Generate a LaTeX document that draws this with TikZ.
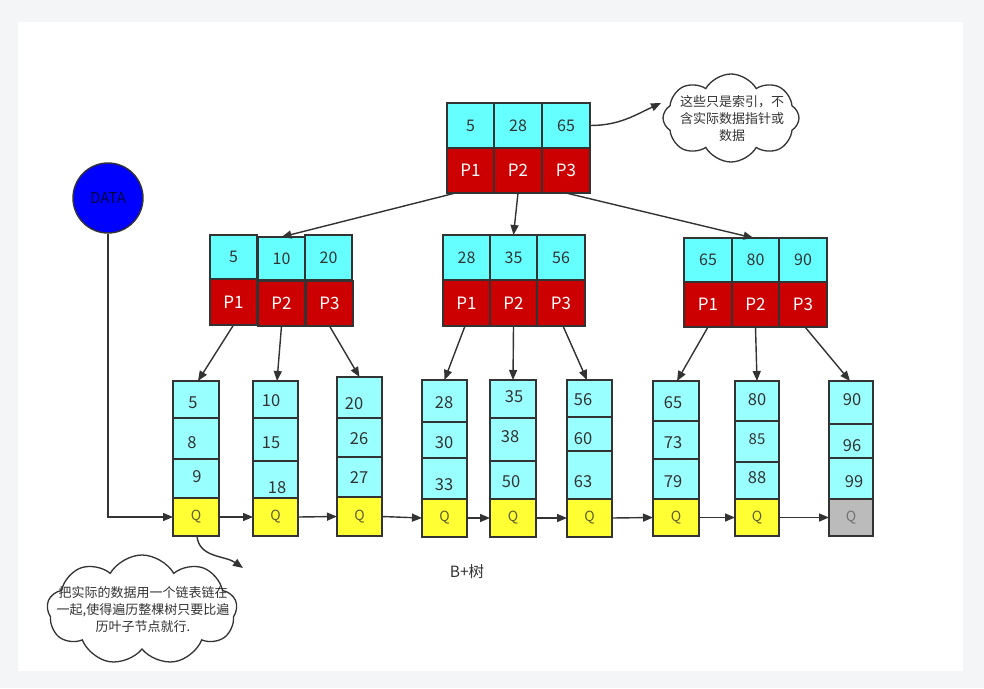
\documentclass[tikz,border=0pt]{standalone}
\usepackage{fontspec}
\setmainfont{Noto Sans CJK SC}
\usetikzlibrary{arrows.meta,shapes.symbols}
\definecolor{bgout}{HTML}{F4F5F7}
\definecolor{keyc}{HTML}{66FFFF}
\definecolor{leafc}{HTML}{99FFFF}
\definecolor{ptrc}{HTML}{CC0000}
\definecolor{qc}{HTML}{FFFF33}
\definecolor{endc}{HTML}{BBBBBB}
\definecolor{edgec}{HTML}{333333}
\definecolor{qtxt}{HTML}{5E5E30}
\newcommand\cellnode[7]{%
  \pgfmathsetmacro\cellW{#5-#3}\pgfmathsetmacro\cellH{#6-#4}%
  \node[#1,minimum width=\cellW pt,minimum height=\cellH pt] (#2) at ({(#3+#5)/2},{(#4+#6)/2}) {#7};%
}
\newcommand\leafbox[9]{%
  \cellnode{leafcell}{#1a}{#2}{#4}{#3}{#5}{}%
  \cellnode{leafcell}{#1b}{#2}{#5}{#3}{#6}{}%
  \cellnode{leafcell}{#1c}{#2}{#6}{#3}{#7}{}%
  \cellnode{#9}{#1q}{#2}{#7}{#3}{#8}{Q}%
}
\begin{document}
\begin{tikzpicture}[x=1pt,y=-1pt,
  box/.style={draw=edgec,line width=1.6pt,inner sep=0pt,outer sep=0pt},
  keycell/.style={box,fill=keyc,font=\fontsize{16}{18}\selectfont,text=edgec},
  ptrcell/.style={box,fill=ptrc,font=\fontsize{17}{19}\selectfont,text=white},
  leafcell/.style={box,fill=leafc},
  qcell/.style={box,fill=qc,font=\fontsize{14}{16}\selectfont,text=qtxt},
  endcell/.style={box,fill=endc,font=\fontsize{14}{16}\selectfont,text=black!55},
  num/.style={font=\fontsize{16.5}{18}\selectfont,text=edgec,inner sep=0pt},
  arr/.style={draw=edgec,line width=1.4pt,-{Triangle[length=10pt,width=8pt]}},
  cloudbox/.style={cloud,cloud ignores aspect,cloud puff arc=120,draw=edgec,line width=1.3pt,fill=white,inner sep=0pt},
  cloudtext/.style={text=edgec,align=center,inner sep=0pt,font=\fontsize{13}{17}\selectfont}
]
\useasboundingbox (0,0) rectangle (984,688);
\fill[bgout] (0,0) rectangle (984,688);
\fill[white] (18,22) rectangle (963,671);

% root
\cellnode{keycell}{rk1}{447}{103}{494}{148}{5}
\cellnode{keycell}{rk2}{494}{103}{542}{148}{28}
\cellnode{keycell}{rk3}{542}{103}{590}{148}{65}
\cellnode{ptrcell}{rp1}{447}{148}{494}{193}{P1}
\cellnode{ptrcell}{rp2}{494}{148}{542}{193}{P2}
\cellnode{ptrcell}{rp3}{542}{148}{590}{193}{P3}

% left internal
\cellnode{keycell}{lk1}{210}{235}{257}{279}{5}
\cellnode{keycell}{lk2}{258}{237}{305}{280}{10}
\cellnode{keycell}{lk3}{305}{235}{352}{280}{20}
\cellnode{ptrcell}{lp1}{210}{279}{257}{325}{P1}
\cellnode{ptrcell}{lp2}{258}{281}{305}{326}{P2}
\cellnode{ptrcell}{lp3}{306}{281}{353}{326}{P3}

% middle internal
\cellnode{keycell}{mk1}{443}{235}{490}{280}{28}
\cellnode{keycell}{mk2}{490}{235}{537}{280}{35}
\cellnode{keycell}{mk3}{537}{235}{585}{280}{56}
\cellnode{ptrcell}{mp1}{443}{280}{490}{326}{P1}
\cellnode{ptrcell}{mp2}{490}{280}{537}{326}{P2}
\cellnode{ptrcell}{mp3}{537}{280}{585}{326}{P3}

% right internal
\cellnode{keycell}{qk1}{684}{238}{732}{282}{65}
\cellnode{keycell}{qk2}{732}{238}{779}{282}{80}
\cellnode{keycell}{qk3}{779}{238}{827}{282}{90}
\cellnode{ptrcell}{qp1}{684}{282}{732}{327}{P1}
\cellnode{ptrcell}{qp2}{732}{282}{779}{327}{P2}
\cellnode{ptrcell}{qp3}{779}{282}{827}{327}{P3}

% leaves
\leafbox{La}{173}{219}{381}{418}{459}{498}{536}{qcell}
\leafbox{Lb}{253}{298}{381}{418}{461}{498}{536}{qcell}
\leafbox{Lc}{337}{382}{377}{418}{457}{497}{536}{qcell}
\leafbox{Ld}{422}{467}{380}{422}{458}{499}{537}{qcell}
\leafbox{Le}{490}{536}{380}{418}{461}{499}{537}{qcell}
\leafbox{Lf}{567}{612}{380}{417}{451}{499}{537}{qcell}
\leafbox{Lg}{653}{699}{381}{421}{459}{499}{536}{qcell}
\leafbox{Lh}{735}{779}{381}{421}{462}{499}{536}{qcell}
\leafbox{Li}{829}{873}{381}{424}{458}{499}{536}{endcell}

% leaf texts
\node[num] (ta1) at (193,403) {5};
\node[num] (ta2) at (192,443) {8};
\node[num] (ta3) at (197,477) {9};
\node[num] (tb1) at (271,401) {10};
\node[num] (tb2) at (271,443) {15};
\node[num] (tb3) at (277,488) {18};
\node[num] (tc1) at (354,404) {20};
\node[num] (tc2) at (359,439) {26};
\node[num] (tc3) at (359,478) {27};
\node[num] (td1) at (444,403) {28};
\node[num] (td2) at (444,443) {30};
\node[num] (td3) at (444,485) {33};
\node[num] (te1) at (514,397) {35};
\node[num] (te2) at (510,437) {38};
\node[num] (te3) at (511,482) {50};
\node[num] (tf1) at (583,400) {56};
\node[num] (tf2) at (583,439) {60};
\node[num] (tf3) at (583,482) {63};
\node[num] (tg1) at (673,403) {65};
\node[num] (tg2) at (673,443) {73};
\node[num] (tg3) at (673,482) {79};
\node[num] (th1) at (757,400) {80};
\node[num,font=\fontsize{15}{17}\selectfont] (th2) at (757,439) {85};
\node[num] (th3) at (757,478) {88};
\node[num] (ti1) at (852,400) {90};
\node[num] (ti2) at (852,446) {96};
\node[num] (ti3) at (854,482) {99};

% tree arrows
\draw[arr] ([xshift=-15pt]rp1.south) -- (lk2.north);
\draw[arr] (rp2.south) -- (mk2.north);
\draw[arr] (rp3.south) -- ([xshift=-2pt]qk2.north);
\draw[arr] (lp1.south) -- ([xshift=2pt]Laa.north);
\draw[arr] (lp2.south) -- ([xshift=1.5pt]Lba.north);
\draw[arr] (lp3.south) -- (Lca.north);
\draw[arr] ([xshift=-1.5pt]mp1.south) -- (Lda.north);
\draw[arr] (mp2.south) -- (Lea.north);
\draw[arr] ([xshift=2pt]mp3.south) -- ([xshift=-2.5pt]Lfa.north);
\draw[arr] (qp1.south) -- ([xshift=1pt]Lga.north);
\draw[arr] (qp2.south) -- (Lha.north);
\draw[arr] ([xshift=2pt]qp3.south) -- ([xshift=-1pt]Lia.north);

% leaf chain
\draw[arr] (Laq.east) -- (Lbq.west);
\draw[arr] (Lbq.east) -- (Lcq.west);
\draw[arr] (Lcq.east) -- (Ldq.west);
\draw[arr] (Ldq.east) -- (Leq.west);
\draw[arr] (Leq.east) -- (Lfq.west);
\draw[arr] (Lfq.east) -- (Lgq.west);
\draw[arr] (Lgq.east) -- (Lhq.west);
\draw[arr] (Lhq.east) -- (Liq.west);

% DATA
\node[circle,fill=blue,draw=edgec,line width=1.4pt,minimum size=70pt,inner sep=0pt,
  font=\fontsize{15}{17}\selectfont,text=black!75!blue] (data) at (108,198) {DATA};
\draw[arr] (data.south) |- (Laq.west);

% clouds
\node[cloudbox,cloud puffs=8,minimum width=136pt,minimum height=88pt] (c1) at (731,118) {};
\node[cloudtext] (c1t) at (732,119) {这些只是索引，不\\含实际数据指针或\\数据};
\coordinate (c1tip) at (661,103);
\draw[arr] (rk3.east) to[out=0,in=205] (c1tip);

\node[cloudbox,cloud puffs=9,minimum width=190pt,minimum height=110pt] (c2) at (142,610) {};
\node[cloudtext] (c2t) at (143,610) {把实际的数据用一个链表链在\\一起,使得遍历整棵树只要比遍\\历叶子节点就行.};
\coordinate (c2tip) at (243,568);
\draw[arr] ([xshift=1pt]Laq.south) to[out=-85,in=145] (c2tip);

% caption
\node[font=\fontsize{15.5}{17}\selectfont,text=edgec,inner sep=0pt] (cap) at (467,572) {B+树};
\end{tikzpicture}
\end{document}
